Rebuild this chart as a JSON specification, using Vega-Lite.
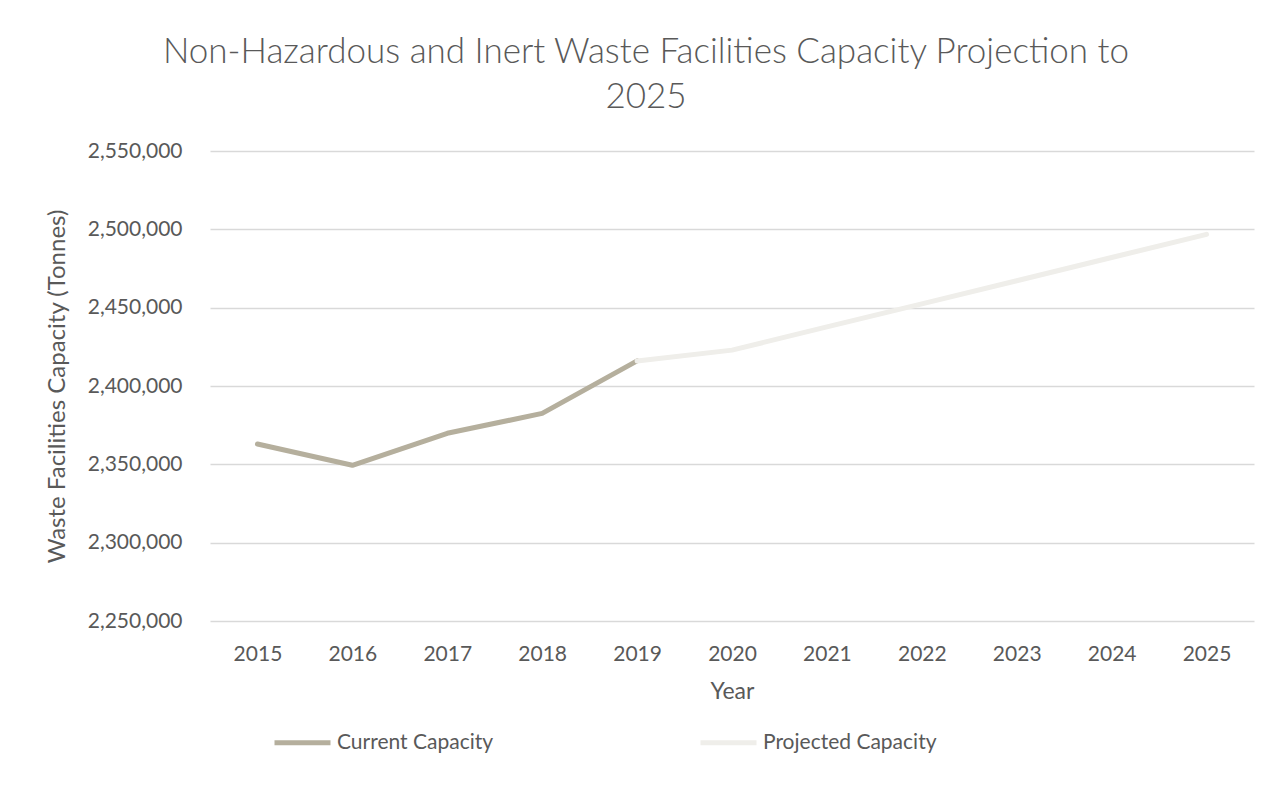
{
  "$schema": "https://vega.github.io/schema/vega-lite/v6.json",
  "autosize": {"type": "none"},
  "padding": {"left": 210, "top": 151, "right": 30, "bottom": 175},
  "width": 1044,
  "height": 470,
  "background": "white",
  "title": {
    "text": ["Non-Hazardous and Inert Waste Facilities Capacity Projection to", "2025"],
    "frame": "group",
    "anchor": "middle",
    "dx": -86,
    "font": "Lato",
    "fontSize": 35,
    "fontWeight": 300,
    "color": "#595959",
    "lineHeight": 45,
    "offset": 25
  },
  "config": {
    "view": {"stroke": null},
    "font": "Lato"
  },
  "data": {
    "values": [
      {"year": "2015", "capacity": 2363000, "series": "Current Capacity"},
      {"year": "2016", "capacity": 2349400, "series": "Current Capacity"},
      {"year": "2017", "capacity": 2369800, "series": "Current Capacity"},
      {"year": "2018", "capacity": 2382500, "series": "Current Capacity"},
      {"year": "2019", "capacity": 2416000, "series": "Current Capacity"},
      {"year": "2019", "capacity": 2416000, "series": "Projected Capacity"},
      {"year": "2020", "capacity": 2422900, "series": "Projected Capacity"},
      {"year": "2021", "capacity": 2437700, "series": "Projected Capacity"},
      {"year": "2022", "capacity": 2452400, "series": "Projected Capacity"},
      {"year": "2023", "capacity": 2467200, "series": "Projected Capacity"},
      {"year": "2024", "capacity": 2482000, "series": "Projected Capacity"},
      {"year": "2025", "capacity": 2496800, "series": "Projected Capacity"}
    ]
  },
  "mark": {"type": "line", "strokeWidth": 5, "strokeCap": "round", "strokeJoin": "round"},
  "encoding": {
    "x": {
      "field": "year",
      "type": "ordinal",
      "scale": {"type": "point", "padding": 0.5},
      "axis": {
        "title": "Year",
        "labelAngle": 0,
        "labelFontSize": 21,
        "labelColor": "#595959",
        "labelFont": "Lato",
        "labelPadding": 22,
        "ticks": false,
        "domain": false,
        "grid": false,
        "titleFontSize": 23,
        "titleFont": "Lato",
        "titleFontWeight": "normal",
        "titleColor": "#595959",
        "titlePadding": 16
      }
    },
    "y": {
      "field": "capacity",
      "type": "quantitative",
      "scale": {"domain": [2250000, 2550000], "nice": false, "zero": false},
      "axis": {
        "title": "Waste Facilities Capacity (Tonnes)",
        "values": [2250000, 2300000, 2350000, 2400000, 2450000, 2500000, 2550000],
        "format": ",d",
        "labelFontSize": 21,
        "labelColor": "#595959",
        "labelFont": "Lato",
        "labelPadding": 28,
        "ticks": false,
        "domain": false,
        "grid": true,
        "gridColor": "#D9D9D9",
        "gridWidth": 1.3,
        "titleFontSize": 24,
        "titleFont": "Lato",
        "titleFontWeight": "normal",
        "titleColor": "#595959",
        "titleAngle": -90,
        "titleX": -153,
        "titleY": 235,
        "titleAlign": "center",
        "titleBaseline": "middle"
      }
    },
    "color": {
      "field": "series",
      "type": "nominal",
      "scale": {"domain": ["Current Capacity", "Projected Capacity"], "range": ["#B5AF9D", "#EFEEEA"]},
      "legend": {
        "title": null,
        "orient": "none",
        "legendX": 62,
        "legendY": 561,
        "direction": "horizontal",
        "symbolType": "stroke",
        "symbolSize": 3136,
        "symbolStrokeWidth": 5,
        "labelFontSize": 21,
        "labelFont": "Lato",
        "labelColor": "#595959",
        "labelOffset": 4,
        "labelLimit": 400,
        "columnPadding": 196
      }
    }
  }
}
